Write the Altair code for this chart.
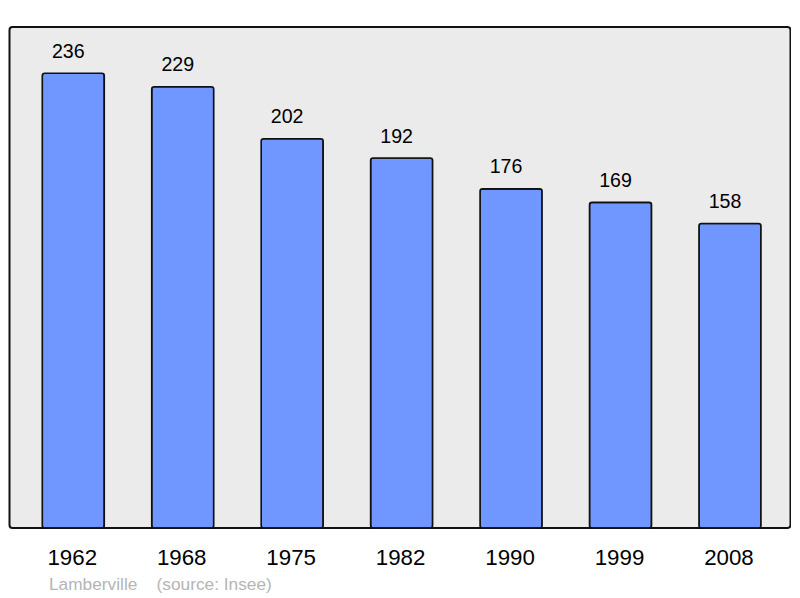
import altair as alt
import pandas as pd

years = ["1962", "1968", "1975", "1982", "1990", "1999", "2008"]
population = [236, 229, 202, 192, 176, 169, 158]
footer_text = ["Lamberville\u00a0\u00a0\u00a0\u00a0(source: Insee)"]

df = pd.DataFrame({"year": years, "pop": population})
foot = pd.DataFrame({"t": footer_text})

FONT = "Liberation Sans"

x = alt.X("year:N", sort=years, title=None,
          scale=alt.Scale(paddingInner=0.4335, paddingOuter=0.2846, align=0.526),
          axis=alt.Axis(labelAngle=0, labelFontSize=22.3, labelFont=FONT,
                        labelColor="#000000", labelPadding=36, labelOffset=-1,
                        labelBaseline="alphabetic", ticks=False,
                        domain=False, grid=False))
y = alt.Y("pop:Q", title=None, scale=alt.Scale(domain=[0, 260], nice=False, zero=True),
          axis=None)

bars = alt.Chart(df).mark_bar(
    color="#7096ff", stroke="#111111", strokeWidth=1.6, cornerRadius=2.5
).encode(x=x, y=y)

labels = alt.Chart(df).mark_text(
    baseline="alphabetic", dx=-5, dy=-15.5, fontSize=19.6, font=FONT, color="#000000"
).encode(x=x, y=y, text="pop:Q")

footer = alt.Chart(foot).mark_text(
    align="left", baseline="alphabetic", fontSize=17.3, font=FONT, color="#b5b5b5"
).encode(x=alt.value(39.5), y=alt.value(563), text="t:N")

chart = alt.layer(bars, labels, footer).properties(
    width=781, height=501,
    autosize=alt.AutoSizeParams(type="none"),
    padding={"left": 1.5, "top": 19, "right": 0, "bottom": 66},
    background="#ffffff",
).configure_view(
    fill="#ebebeb", stroke="#111111", strokeWidth=2, cornerRadius=3
)

chart.save("out.html", embed_options={"renderer": "svg", "actions": False})
